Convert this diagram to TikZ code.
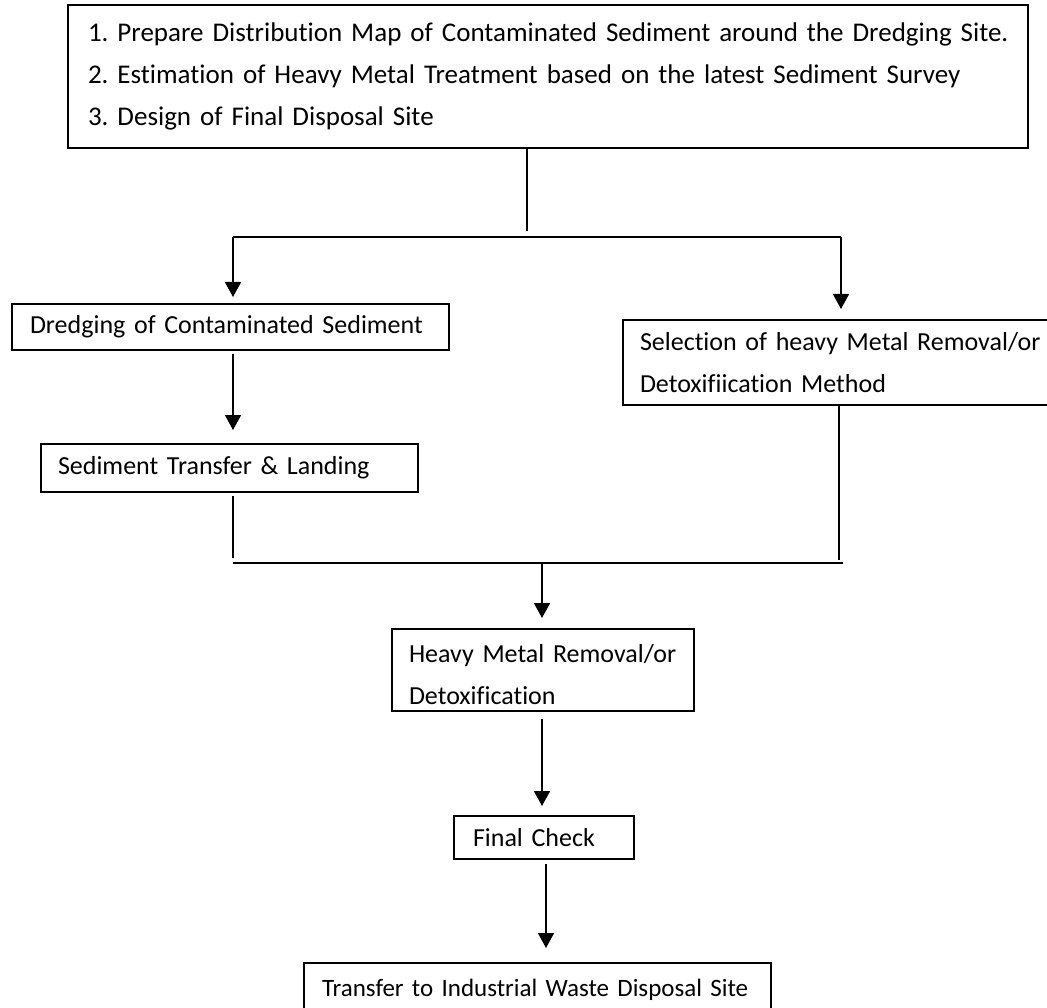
\documentclass[tikz,border=0pt]{standalone}
\usepackage{fontspec}
\setmainfont{Carlito}[Ligatures=NoCommon]
\usetikzlibrary{calc, arrows.meta}
\frenchspacing

\begin{document}
\begin{tikzpicture}[x=1pt, y=-1pt]

    \tikzstyle{block}=[draw=black, line width=2pt, anchor=north west, align=left, inner ysep=0pt, font=\fontsize{26}{42}\selectfont];
    \tikzstyle{link}=[line width=1.6pt];
    \tikzstyle{flow}=[link, -{Triangle[length=15pt, width=16pt]}];

    \useasboundingbox (0,0) rectangle (1047,1008);

    \node[block, inner xsep=20pt, text width=920pt, minimum height=143pt, font=\fontsize{27}{42}\selectfont] (0) at (67,4)
        {\mbox{1. Prepare Distribution Map of Contaminated Sediment around the Dredging Site.}\\
         \mbox{2. Estimation of Heavy Metal Treatment based on the latest Sediment Survey}\\
         \mbox{3. Design of Final Disposal Site}};
    \node[block, inner xsep=18pt, text width=401pt, minimum height=46pt] (1) at (11,303) {\mbox{Dredging of Contaminated Sediment}};
    \node[block, inner xsep=17pt, text width=343pt, minimum height=48pt] (2) at (40,443) {\mbox{Sediment Transfer \& Landing}};
    \node[block, inner xsep=17pt, text width=404pt, minimum height=85pt] (3) at (622,319)
        {\mbox{Selection of heavy Metal Removal/or}\\\mbox{Detoxifiication Method}};
    \node[block, inner xsep=17pt, text width=268pt, minimum height=82pt] (4) at (391,628)
        {\rule{0pt}{27.5pt}\mbox{Heavy Metal Removal/or}\\\mbox{Detoxification}};
    \node[block, inner xsep=19pt, text width=142pt, minimum height=43pt] (5) at (453,815) {\mbox{Final Check}};
    \node[block, inner xsep=18pt, text width=431pt, minimum height=53pt, font=\fontsize{25}{42}\selectfont] (6) at (303,962)
        {\mbox{Transfer to Industrial Waste Disposal Site}};

    \coordinate (t) at (527,231);
    \coordinate (a) at (233,237);
    \coordinate (b) at (841,237);
    \coordinate (c) at (233,563);
    \coordinate (d) at (843,563);
    \coordinate (e) at (542,563);

    \draw[link] (t |- 0.south) -- (t);
    \draw[link] (a) -- (b);
    \draw[flow, shorten >=6pt] (a) -- (a |- 1.north);
    \draw[flow, shorten >=10pt] (b) -- (b |- 3.north);

    \draw[flow, shorten <=3pt, shorten >=13pt] (a |- 1.south) -- (a |- 2.north);
    \draw[link, shorten <=3pt, shorten >=5pt] (a |- 2.south) -- (c);
    \draw[link, shorten <=-2pt, shorten >=3pt] ($(b |- 3.south)+(-2,0)$) -- ($(d)+(-4,0)$);
    \draw[link] (c) -- (d);

    \draw[flow, shorten >=10pt] (e) -- (e |- 4.north);
    \draw[flow, shorten <=7pt, shorten >=9pt] (e |- 4.south) -- (e |- 5.north);
    \draw[flow, shorten <=4pt, shorten >=14pt] ($(e |- 5.south)+(4,0)$) -- ($(e |- 6.north)+(4,0)$);

\end{tikzpicture}
\end{document}
